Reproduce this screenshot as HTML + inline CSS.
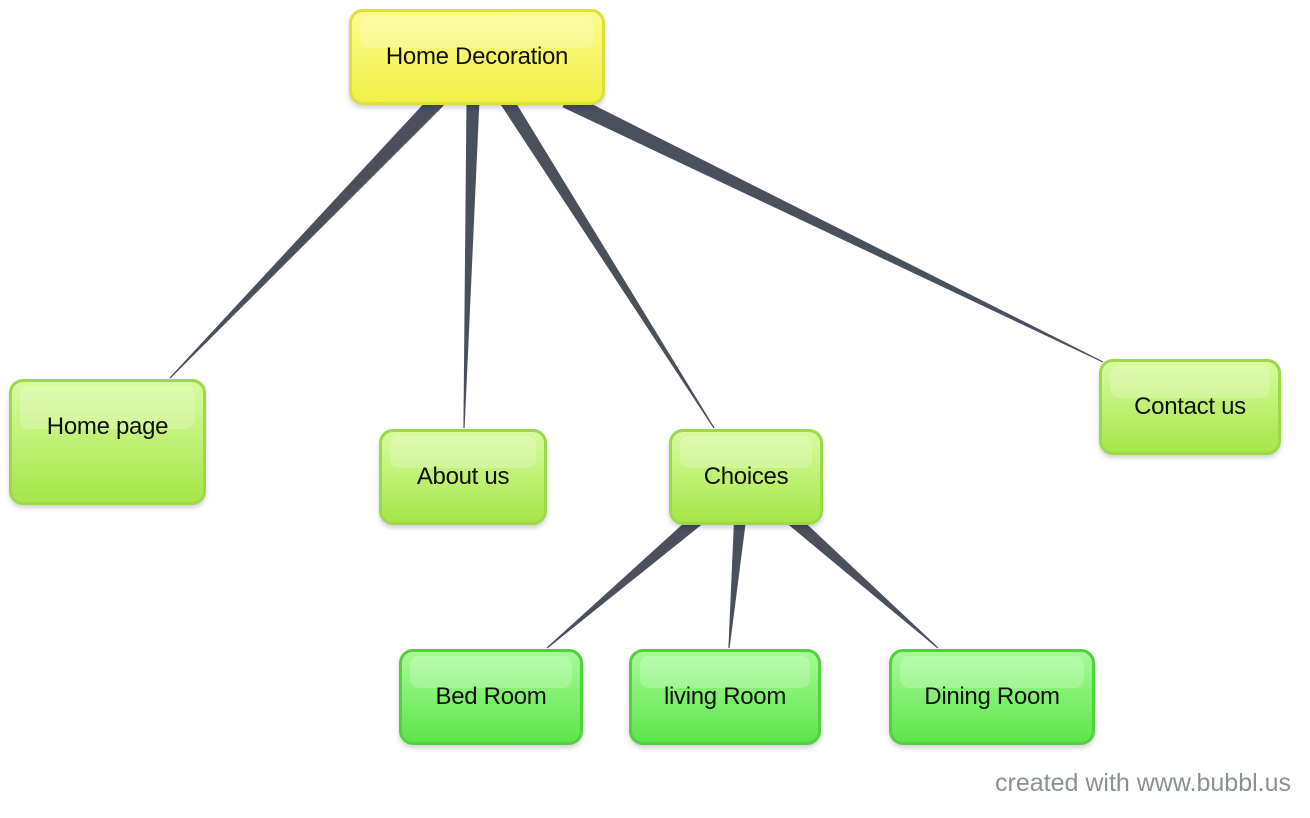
<!DOCTYPE html>
<html><head><meta charset="utf-8"><style>
html,body{margin:0;padding:0;background:#fff;width:1310px;height:818px;overflow:hidden;font-family:"Liberation Sans",sans-serif}
.n{position:absolute;box-sizing:border-box;border-radius:14px;border:3px solid;display:flex;align-items:center;justify-content:center;font-size:24px;letter-spacing:-0.3px;color:#111;box-shadow:0 3px 5px rgba(0,0,0,0.18)}
.n::before{content:"";position:absolute;left:8px;right:8px;top:4px;height:36%;border-radius:9px;background:rgba(255,255,255,0.22)}
.n span{position:relative}
.y{background:linear-gradient(#fbfb8e,#f2f046);border-color:#dede3e}
.g{background:linear-gradient(#d8fb9e,#a6e64a);border-color:#9bd84a}
.d{background:linear-gradient(#a6fb96,#5de54a);border-color:#55cf42}
#ft{position:absolute;right:19px;top:769px;font-size:25px;color:#8a8f99}
</style></head><body>
<svg id="s" width="1310" height="818" style="position:absolute;left:0;top:0"></svg>
<div class="n y" style="left:349px;top:9px;width:256px;height:96px"><span>Home Decoration</span></div>
<div class="n g" style="left:9px;top:379px;width:197px;height:126px;padding-bottom:30px"><span>Home page</span></div>
<div class="n g" style="left:379px;top:429px;width:168px;height:96px"><span>About us</span></div>
<div class="n g" style="left:669px;top:429px;width:154px;height:96px"><span>Choices</span></div>
<div class="n g" style="left:1099px;top:359px;width:182px;height:96px"><span>Contact us</span></div>
<div class="n d" style="left:399px;top:649px;width:184px;height:96px"><span>Bed Room</span></div>
<div class="n d" style="left:629px;top:649px;width:192px;height:96px"><span>living Room</span></div>
<div class="n d" style="left:889px;top:649px;width:206px;height:96px"><span>Dining Room</span></div>
<div id="ft">created with www.bubbl.us</div>
<script>
var E=[[438,100,170,378,16],[473,100,464,428,13],[506,100,714,428,14],[566,100,1103,362,16],[697,520,547,648,13],[740,520,729,648,12],[793,520,938,648,13]];
var s=document.getElementById('s'),h='';
E.forEach(function(e){var dx=e[2]-e[0],dy=e[3]-e[1],L=Math.hypot(dx,dy),px=-dy/L,py=dx/L,w=e[4]/2,w2=0.6;
h+='<polygon fill="#4a505c" points="'+(e[0]+px*w)+','+(e[1]+py*w)+' '+(e[2]+px*w2)+','+(e[3]+py*w2)+' '+(e[2]-px*w2)+','+(e[3]-py*w2)+' '+(e[0]-px*w)+','+(e[1]-py*w)+'"/>';});
s.innerHTML=h;
</script>
</body></html>
